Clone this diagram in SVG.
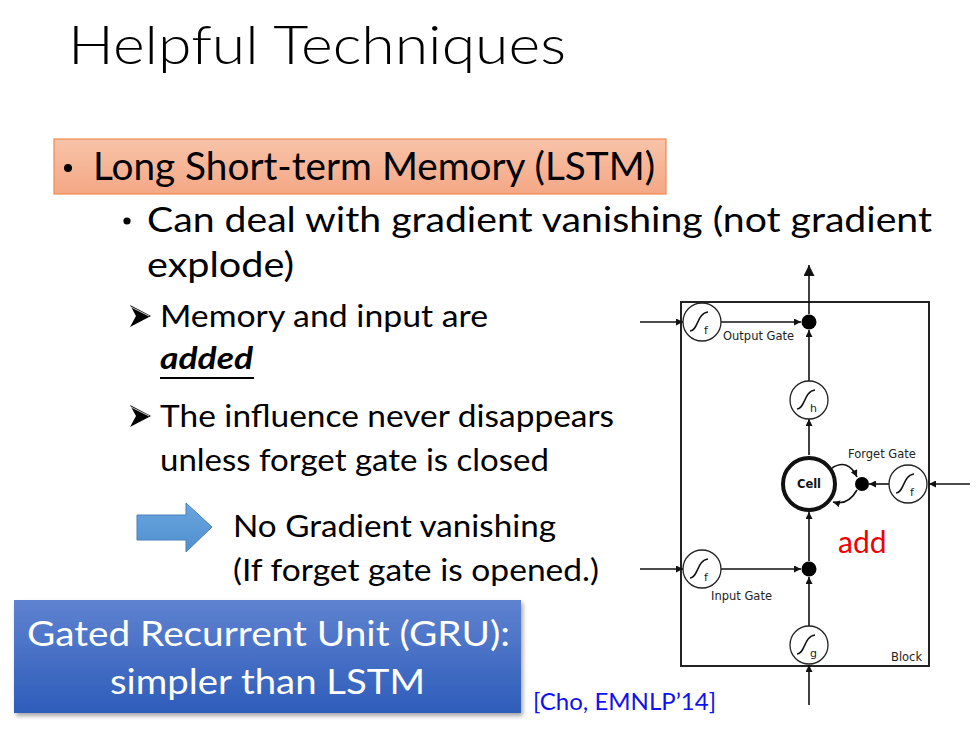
<svg xmlns="http://www.w3.org/2000/svg" width="980" height="729" viewBox="0 0 980 729">
<defs>
<linearGradient id="og" x1="0" y1="0" x2="0" y2="1"><stop offset="0" stop-color="#F8C3A9"/><stop offset="1" stop-color="#F4A885"/></linearGradient>
<linearGradient id="bg" x1="0" y1="0" x2="0" y2="1"><stop offset="0" stop-color="#5F82D0"/><stop offset="1" stop-color="#2E5DBA"/></linearGradient>
<linearGradient id="ag" x1="0" y1="0" x2="0" y2="1"><stop offset="0" stop-color="#6AA6DE"/><stop offset="1" stop-color="#4F8FCF"/></linearGradient>
<marker id="ah" viewBox="0 0 10 10" refX="10" refY="5" markerWidth="7" markerHeight="7" markerUnits="userSpaceOnUse" orient="auto"><path d="M0,0 L10,5 L0,10 Z" fill="#111"/></marker>
<marker id="ahb" viewBox="0 0 10 10" refX="10" refY="5" markerWidth="11" markerHeight="11" markerUnits="userSpaceOnUse" orient="auto"><path d="M0,0 L10,5 L0,10 Z" fill="#111"/></marker>
<filter id="sh" x="-5%" y="-5%" width="110%" height="120%"><feDropShadow dx="2" dy="3" stdDeviation="2" flood-color="#000" flood-opacity="0.35"/></filter>
</defs>
<style>
.t{font-family:Lato,"Open Sans","Liberation Sans",sans-serif;fill:#000}
.d{font-family:"DejaVu Sans",sans-serif;fill:#222}
.ln{stroke:#111;stroke-width:1.6;fill:none}
.gc{fill:#fff;stroke:#222;stroke-width:1.3}
.sg{stroke:#111;stroke-width:1.5;fill:none}
.dot{fill:#000}
</style>
<rect width="980" height="729" fill="#fff"/>

<g id="title"><text class="t" x="68" y="64" font-size="54" font-weight="300" textLength="498" lengthAdjust="spacingAndGlyphs">Helpful Techniques</text></g>

<g id="lstm-heading">
<rect x="54" y="139" width="612" height="55" fill="url(#og)" stroke="#EF8A4E" stroke-width="1.2"/>
<circle cx="68" cy="168" r="4" fill="#000"/>
<text class="t" x="93" y="180" font-size="38" textLength="562" lengthAdjust="spacingAndGlyphs">Long Short-term Memory (LSTM)</text>
</g>

<g id="bullets">
<circle cx="127" cy="221" r="3.6" fill="#000"/>
<text class="t" x="147" y="232" font-size="34" textLength="785" lengthAdjust="spacingAndGlyphs">Can deal with gradient vanishing (not gradient</text>
<text class="t" x="147" y="277" font-size="34" textLength="147" lengthAdjust="spacingAndGlyphs">explode)</text>
<path d="M130,305 L151,316 L130,327 L136,316 Z" fill="#000"/>
<path d="M131,307 L149,316" stroke="#fff" stroke-width="0.8"/>
<text class="t" x="160" y="327" font-size="31" textLength="328" lengthAdjust="spacingAndGlyphs">Memory and input are</text>
<text class="t" x="160" y="369" font-size="31" font-weight="bold" font-style="italic" textLength="93" lengthAdjust="spacingAndGlyphs">added</text>
<line x1="160" y1="378" x2="254" y2="378" stroke="#000" stroke-width="2"/>
<path d="M130,405 L151,416 L130,427 L136,416 Z" fill="#000"/>
<path d="M131,407 L149,416" stroke="#fff" stroke-width="0.8"/>
<text class="t" x="160" y="427" font-size="31" textLength="454" lengthAdjust="spacingAndGlyphs">The influence never disappears</text>
<text class="t" x="160" y="471" font-size="31" textLength="389" lengthAdjust="spacingAndGlyphs">unless forget gate is closed</text>
</g>

<g id="result-arrow">
<path d="M137,515 L186,515 L186,503 L212,527 L186,552 L186,540 L137,540 Z" fill="url(#ag)" stroke="#4A7EBB" stroke-width="1"/>
<text class="t" x="233" y="537" font-size="31" textLength="323" lengthAdjust="spacingAndGlyphs">No Gradient vanishing</text>
<text class="t" x="233" y="581" font-size="31" textLength="366" lengthAdjust="spacingAndGlyphs">(If forget gate is opened.)</text>
</g>

<g id="gru-box">
<rect x="14" y="600" width="507" height="113" fill="url(#bg)" filter="url(#sh)"/>
<text class="t" x="27" y="646" font-size="34" style="fill:#fff" textLength="483" lengthAdjust="spacingAndGlyphs">Gated Recurrent Unit (GRU):</text>
<text class="t" x="110" y="694" font-size="34" style="fill:#fff" textLength="315" lengthAdjust="spacingAndGlyphs">simpler than LSTM</text>
</g>

<g id="citation"><text class="t" x="533" y="710" font-size="23" style="fill:#1010F0" textLength="183" lengthAdjust="spacingAndGlyphs">[Cho, EMNLP’14]</text></g>

<g id="block"><rect x="681" y="302" width="248" height="364" fill="none" stroke="#222" stroke-width="2"/>
<text class="d" x="891" y="661" font-size="11.5">Block</text></g>

<g id="connectors">
<line class="ln" x1="640" y1="322" x2="683" y2="322" marker-end="url(#ah)"/>
<line class="ln" x1="721" y1="322" x2="801" y2="322" marker-end="url(#ah)"/>
<line class="ln" x1="809" y1="314" x2="809" y2="265" marker-end="url(#ahb)"/>
<line class="ln" x1="809" y1="381" x2="809" y2="330" marker-end="url(#ah)"/>
<line class="ln" x1="809" y1="455" x2="809" y2="419" marker-end="url(#ah)"/>
<line class="ln" x1="970" y1="484" x2="929" y2="484" marker-end="url(#ah)"/>
<line class="ln" x1="889" y1="484" x2="869" y2="484" marker-end="url(#ah)"/>
<path class="ln" d="M832,468 Q848,458 857,477" marker-end="url(#ah)"/>
<path class="ln" d="M857,490 Q848,506 833,502" marker-end="url(#ah)"/>
<line class="ln" x1="640" y1="569" x2="683" y2="569" marker-end="url(#ah)"/>
<line class="ln" x1="721" y1="569" x2="801" y2="569" marker-end="url(#ah)"/>
<line class="ln" x1="809" y1="561" x2="809" y2="512" marker-end="url(#ah)"/>
<line class="ln" x1="809" y1="626" x2="809" y2="577" marker-end="url(#ah)"/>
<line class="ln" x1="809" y1="705" x2="809" y2="665" marker-end="url(#ah)"/>
</g>

<g id="output-gate">
<circle class="gc" cx="702" cy="322" r="19"/>
<path class="sg" d="M690,331 C698,331 697,313 708,312"/>
<text class="d" x="704" y="334" font-size="11">f</text>
<text class="d" x="723" y="340" font-size="11.5">Output Gate</text>
</g>
<g id="output-dot"><circle class="dot" cx="809" cy="322" r="7.5"/></g>

<g id="h-node">
<circle class="gc" cx="809" cy="400" r="19"/>
<path class="sg" d="M797,409 C805,409 804,391 815,390"/>
<text class="d" x="810" y="412" font-size="11">h</text>
</g>

<g id="cell">
<circle cx="809" cy="484" r="26" fill="#fff" stroke="#111" stroke-width="4"/>
<text class="d" x="809" y="488" font-size="11.5" font-weight="bold" text-anchor="middle" style="fill:#111">Cell</text>
</g>

<g id="forget-dot"><circle class="dot" cx="862" cy="484" r="7"/></g>
<g id="forget-gate">
<circle class="gc" cx="908" cy="484" r="19"/>
<path class="sg" d="M896,493 C904,493 903,475 914,474"/>
<text class="d" x="910" y="496" font-size="11">f</text>
<text class="d" x="848" y="458" font-size="11.5">Forget Gate</text>
</g>

<g id="add-label"><text class="t" x="838" y="553" font-size="30" style="fill:#F00000">add</text></g>

<g id="input-gate">
<circle class="gc" cx="702" cy="569" r="19"/>
<path class="sg" d="M690,578 C698,578 697,560 708,559"/>
<text class="d" x="704" y="581" font-size="11">f</text>
<text class="d" x="711" y="600" font-size="11.5">Input Gate</text>
</g>
<g id="input-dot"><circle class="dot" cx="809" cy="569" r="7.5"/></g>

<g id="g-node">
<circle class="gc" cx="809" cy="645" r="19"/>
<path class="sg" d="M797,654 C805,654 804,636 815,635"/>
<text class="d" x="810" y="657" font-size="11">g</text>
</g>
</svg>
